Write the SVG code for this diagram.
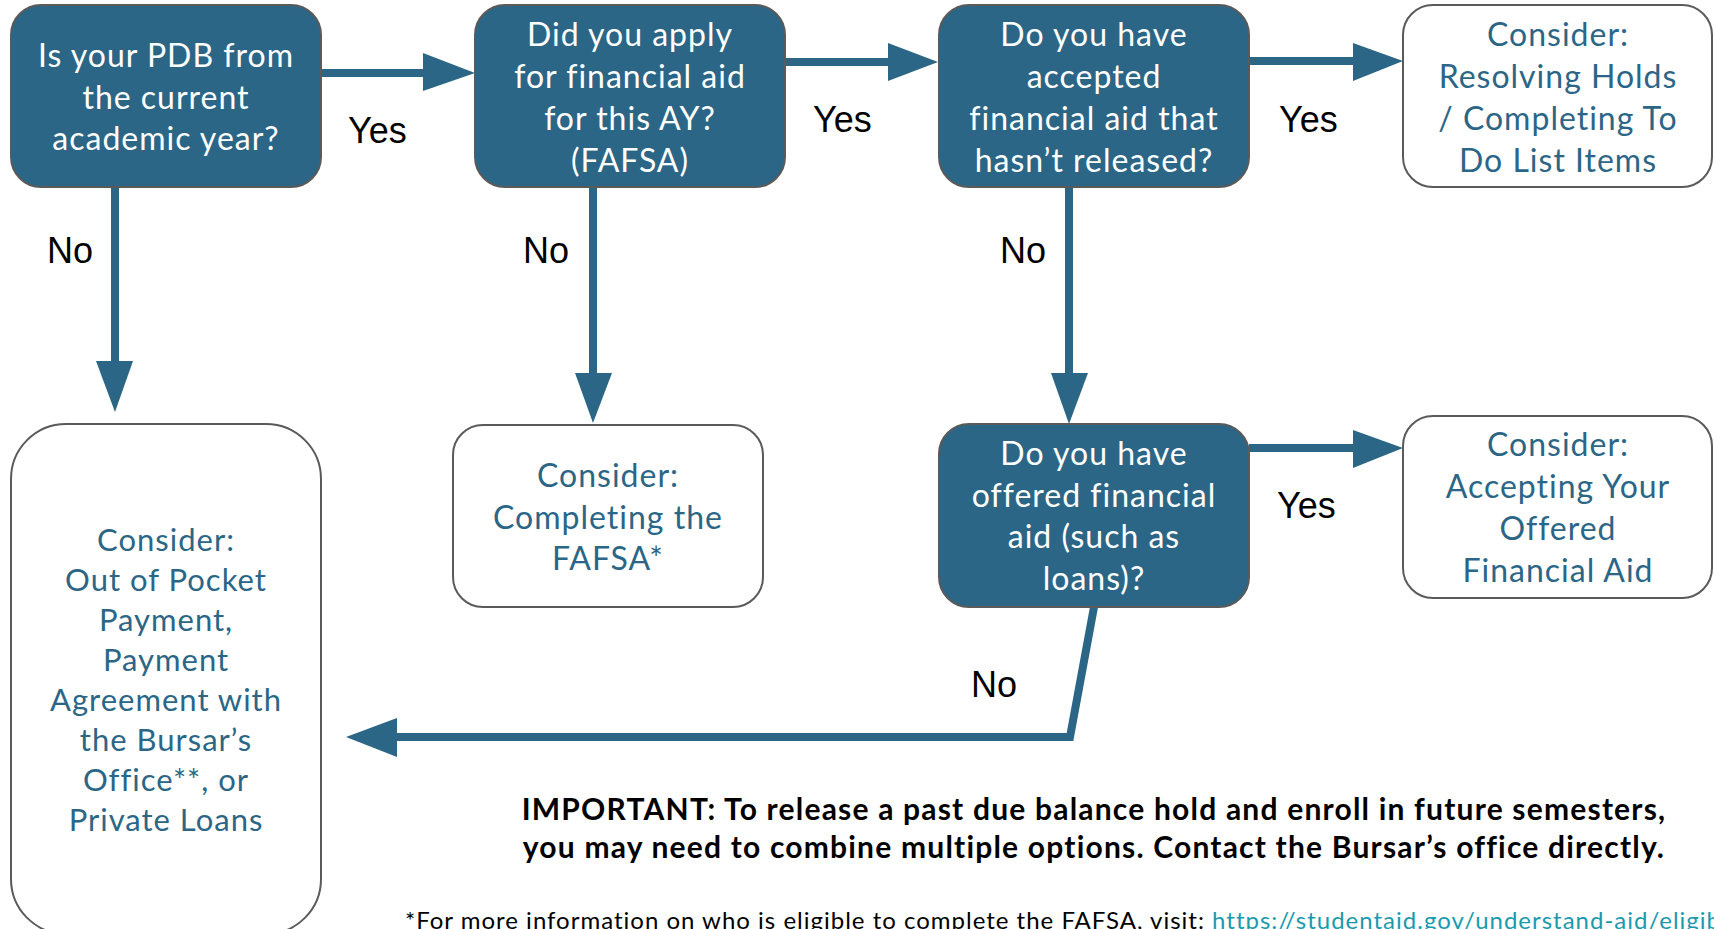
<svg xmlns="http://www.w3.org/2000/svg" width="1714" height="929" viewBox="0 0 1714 929">
<style>
.q{fill:#2c6686;stroke:#5a5a5a;stroke-width:2}
.a{fill:#ffffff;stroke:#5a5a5a;stroke-width:2}
.qt{font-family:Lato,"Open Sans",sans-serif;font-size:32px;letter-spacing:1px;fill:#ffffff;text-anchor:middle}
.at{font-family:Lato,"Open Sans",sans-serif;font-size:32px;letter-spacing:1px;fill:#2c6686;text-anchor:middle}
.at5{font-family:Lato,"Open Sans",sans-serif;font-size:31px;letter-spacing:1px;fill:#2c6686;text-anchor:middle}
.lbl{font-family:"Liberation Sans",Arial,sans-serif;font-size:36px;fill:#000000}
.ln{fill:none;stroke:#2c6686;stroke-width:8}
.hd{fill:#2c6686}
.imp{font-family:Lato,"Open Sans",sans-serif;font-size:30px;font-weight:bold;letter-spacing:1.2px;fill:#000000;text-anchor:middle}
.fn{font-family:Lato,"Open Sans",sans-serif;font-size:24px;letter-spacing:1px;fill:#000000}
.lk{fill:#1b9aae}
</style>
<g id="connectors">
<line class="ln" x1="321" y1="73" x2="425" y2="73"/><polygon class="hd" points="423,53 475,73 423,91"/>
<line class="ln" x1="785" y1="62" x2="890" y2="62"/><polygon class="hd" points="888,43 938,62 888,81"/>
<line class="ln" x1="1249" y1="61" x2="1355" y2="61"/><polygon class="hd" points="1353,43 1403,61 1353,81"/>
<line class="ln" x1="1249" y1="448" x2="1355" y2="448"/><polygon class="hd" points="1353,430 1403,448 1353,468"/>
<line class="ln" x1="115" y1="187" x2="115" y2="363"/><polygon class="hd" points="96,361 133,361 115,412"/>
<line class="ln" x1="593" y1="187" x2="593" y2="375"/><polygon class="hd" points="575,373 612,373 593,423"/>
<line class="ln" x1="1069" y1="187" x2="1069" y2="375"/><polygon class="hd" points="1051,373 1088,373 1069,424"/>
<polyline class="ln" points="1094,607 1070,737 395,737"/><polygon class="hd" points="397,718 346,737 397,757"/>
<text class="lbl" x="348" y="143">Yes</text>
<text class="lbl" x="813" y="132">Yes</text>
<text class="lbl" x="1279" y="132">Yes</text>
<text class="lbl" x="1277" y="518">Yes</text>
<text class="lbl" x="47" y="263">No</text>
<text class="lbl" x="523" y="263">No</text>
<text class="lbl" x="1000" y="263">No</text>
<text class="lbl" x="971" y="697">No</text>
</g>
<g id="n1"><rect class="q" x="11" y="5" width="310" height="182" rx="30"/>
<text class="qt" x="166" y="67">Is your PDB from</text><text class="qt" x="166" y="109">the current</text><text class="qt" x="166" y="150">academic year?</text></g>
<g id="n2"><rect class="q" x="475" y="5" width="310" height="182" rx="30"/>
<text class="qt" x="630" y="46">Did you apply</text><text class="qt" x="630" y="88">for financial aid</text><text class="qt" x="630" y="130">for this AY?</text><text class="qt" x="630" y="172">(FAFSA)</text></g>
<g id="n3"><rect class="q" x="939" y="5" width="310" height="182" rx="30"/>
<text class="qt" x="1094" y="46">Do you have</text><text class="qt" x="1094" y="88">accepted</text><text class="qt" x="1094" y="130">financial aid that</text><text class="qt" x="1094" y="172">hasn’t released?</text></g>
<g id="n4"><rect class="a" x="1403" y="5" width="309" height="182" rx="30"/>
<text class="at" x="1558" y="46">Consider:</text><text class="at" x="1558" y="88">Resolving Holds</text><text class="at" x="1558" y="130">/ Completing To</text><text class="at" x="1558" y="172">Do List Items</text></g>
<g id="n5"><rect class="a" x="11" y="424" width="310" height="510" rx="55"/>
<text class="at5" x="166" y="551">Consider:</text><text class="at5" x="166" y="591">Out of Pocket</text><text class="at5" x="166" y="631">Payment,</text><text class="at5" x="166" y="671">Payment</text><text class="at5" x="166" y="711">Agreement with</text><text class="at5" x="166" y="751">the Bursar’s</text><text class="at5" x="166" y="791">Office**, or</text><text class="at5" x="166" y="831">Private Loans</text></g>
<g id="n6"><rect class="a" x="453" y="425" width="310" height="182" rx="30"/>
<text class="at" x="608" y="487">Consider:</text><text class="at" x="608" y="529">Completing the</text><text class="at" x="608" y="570">FAFSA*</text></g>
<g id="n7"><rect class="q" x="939" y="424" width="310" height="183" rx="30"/>
<text class="qt" x="1094" y="465">Do you have</text><text class="qt" x="1094" y="507">offered financial</text><text class="qt" x="1094" y="548">aid (such as</text><text class="qt" x="1094" y="590">loans)?</text></g>
<g id="n8"><rect class="a" x="1403" y="416" width="309" height="182" rx="30"/>
<text class="at" x="1558" y="456">Consider:</text><text class="at" x="1558" y="498">Accepting Your</text><text class="at" x="1558" y="540">Offered</text><text class="at" x="1558" y="582">Financial Aid</text></g>
<g id="notes">
<text class="imp" x="1094" y="820">IMPORTANT: To release a past due balance hold and enroll in future semesters,</text>
<text class="imp" x="1094" y="858">you may need to combine multiple options. Contact the Bursar’s office directly.</text>
<text class="fn" x="405" y="929">*For more information on who is eligible to complete the FAFSA, visit: <tspan class="lk">https://studentaid.gov/understand-aid/eligibility</tspan></text>
</g>
</svg>
